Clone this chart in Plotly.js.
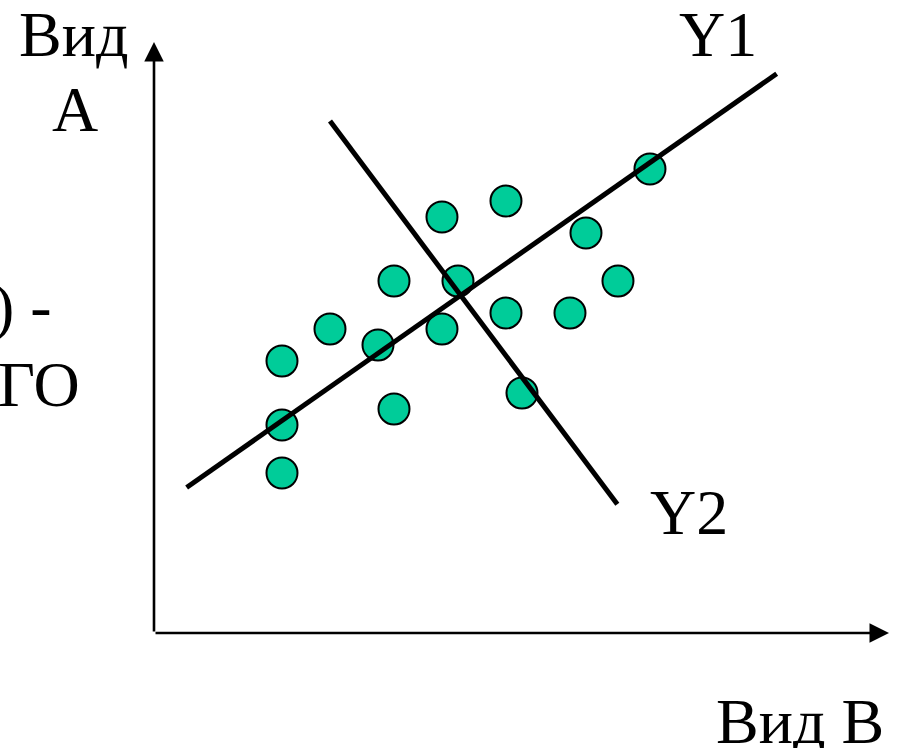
<!DOCTYPE html>
<html>
<head>
<meta charset="utf-8">
<script src="https://cdn.plot.ly/plotly-3.0.1.min.js"></script>
<style>
  html, body { margin: 0; padding: 0; background: #ffffff; }
  #chart { width: 897px; height: 748px; }
</style>
</head>
<body>
<div id="chart"></div>
<script>
// Observations: value on "Вид В" (x) and "Вид А" (y)
var pointsX = [8, 8, 8, 11, 14, 15, 15, 18, 18, 19, 22, 22, 23, 26, 27, 29, 31];
var pointsY = [17, 13, 10, 19, 18, 22, 14, 26, 19, 22, 27, 20, 15, 20, 25, 22, 29];

// Principal directions
var y1X = [2.04, 38.92];
var y1Y = [9.09, 34.96];
var y2X = [11, 28.96];
var y2Y = [32, 8.04];

// Axis extents
var xMax = 45.94;
var yMax = 36.94;

// Axis and line labels
var yAxisLabel = ["Вид", "А"];
var xAxisLabel = "Вид В";
var y1Label = "Y1";
var y2Label = "Y2";
var sideText = [") -", "ГО"];

var W = 897, H = 748;
var M = { l: 154, r: 8, t: 41.7, b: 115.3 };
var plotW = W - M.l - M.r;
var plotH = H - M.t - M.b;
function px(x) { return (x - M.l) / plotW; }
function py(y) { return (H - M.b - y) / plotH; }

var FONT = '"Liberation Serif", "Times New Roman", serif';
var textFont = { family: FONT, size: 64, color: '#000000' };

function label(text, x, y, anchor) {
  return {
    text: text, xref: 'paper', yref: 'paper',
    x: px(x), y: py(y), xanchor: anchor || 'center', yanchor: 'middle',
    showarrow: false, font: textFont
  };
}

var traces = [
  {
    type: 'scatter', mode: 'markers', x: pointsX, y: pointsY,
    marker: { size: 31, color: 'rgb(0,204,153)', line: { color: '#000000', width: 2 } },
    hoverinfo: 'skip', cliponaxis: false
  },
  {
    type: 'scatter', mode: 'lines', x: y1X, y: y1Y,
    line: { color: '#000000', width: 5 }, hoverinfo: 'skip', cliponaxis: false
  },
  {
    type: 'scatter', mode: 'lines', x: y2X, y: y2Y,
    line: { color: '#000000', width: 5 }, hoverinfo: 'skip', cliponaxis: false
  }
];

var axisArrow = {
  showarrow: true, arrowhead: 2, arrowsize: 1.5, arrowwidth: 2.6,
  arrowcolor: '#000000', standoff: 0, startstandoff: 0,
  xref: 'x', yref: 'y', axref: 'x', ayref: 'y', text: ''
};

var annotations = [
  Object.assign({}, axisArrow, { x: xMax, y: 0, ax: 0, ay: 0 }),
  Object.assign({}, axisArrow, { x: 0, y: yMax, ax: 0, ay: 0 }),
  label(yAxisLabel[0], 73.5, 34),
  label(yAxisLabel[1], 74.5, 109),
  label(sideText[0], 54, 306, 'right'),
  label(sideText[1], 82, 384, 'right'),
  label(y1Label, 718, 34),
  label(y2Label, 688.5, 512),
  label(xAxisLabel, 800, 721)
];

var layout = {
  width: W, height: H,
  margin: M,
  paper_bgcolor: '#ffffff', plot_bgcolor: '#ffffff',
  showlegend: false,
  xaxis: { range: [0, xMax], visible: false, fixedrange: true },
  yaxis: { range: [0, yMax], visible: false, fixedrange: true },
  annotations: annotations
};

Plotly.newPlot('chart', traces, layout, { staticPlot: true, displayModeBar: false });
</script>
</body>
</html>
